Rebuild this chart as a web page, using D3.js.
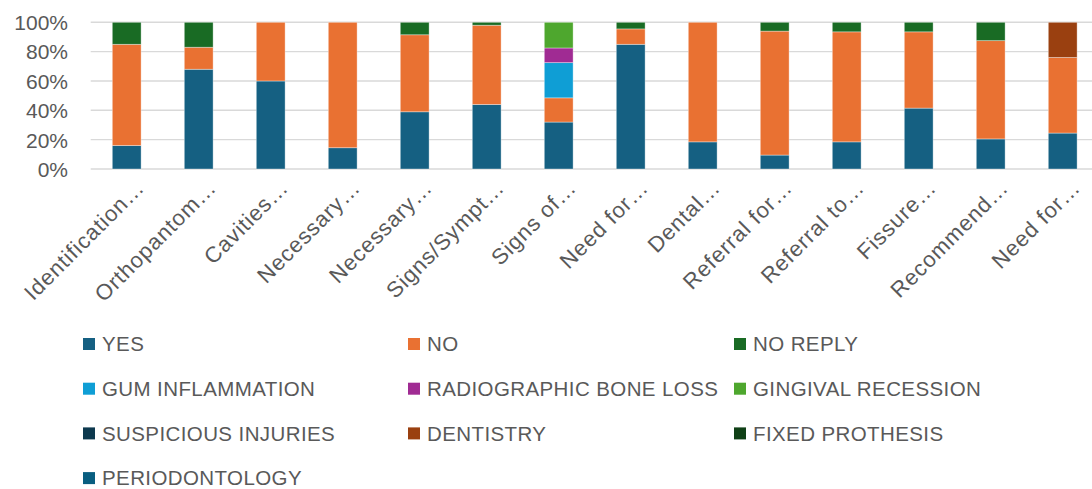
<!DOCTYPE html>
<html><head><meta charset="utf-8">
<script src="https://cdn.jsdelivr.net/npm/d3@7/dist/d3.min.js"></script>
<style>html,body{margin:0;padding:0;background:#fff;}svg{display:block;}</style>
</head><body><svg id="c" width="1092" height="489"></svg>
<script>
const categories = ["Identification…","Orthopantom…","Cavities…","Necessary…","Necessary…","Signs/Sympt…","Signs of…","Need for…","Dental…","Referral for…","Referral to…","Fissure…","Recommend…","Need for…"];
const seriesNames = ["YES","NO","NO REPLY","GUM INFLAMMATION","RADIOGRAPHIC BONE LOSS","GINGIVAL RECESSION","SUSPICIOUS INJURIES","DENTISTRY","FIXED PROTHESIS","PERIODONTOLOGY"];
const seriesColors = ["#156082","#E97132","#196B24","#0F9ED5","#A02B93","#4EA72E","#0D394E","#9A4010","#0F4016","#095E80"];
const yes       = [16, 68, 60, 14.5, 39, 44, 32, 85, 18.5, 9.5, 18.5, 41.5, 20.5, 24.5];
const no        = [69, 15, 40, 85.5, 52.5, 54, 16.5, 10.5, 81.5, 84.5, 75, 52, 67, 51.5];
const noReply   = [15, 17, 0, 0, 8.5, 2, 0, 4.5, 0, 6, 6.5, 6.5, 12.5, 0];
const gumInflam = [0, 0, 0, 0, 0, 0, 24, 0, 0, 0, 0, 0, 0, 0];
const radBone   = [0, 0, 0, 0, 0, 0, 10, 0, 0, 0, 0, 0, 0, 0];
const gingRec   = [0, 0, 0, 0, 0, 0, 17.5, 0, 0, 0, 0, 0, 0, 0];
const suspInj   = [0, 0, 0, 0, 0, 0, 0, 0, 0, 0, 0, 0, 0, 0];
const dentistry = [0, 0, 0, 0, 0, 0, 0, 0, 0, 0, 0, 0, 0, 24];
const fixedPro  = [0, 0, 0, 0, 0, 0, 0, 0, 0, 0, 0, 0, 0, 0];
const perio     = [0, 0, 0, 0, 0, 0, 0, 0, 0, 0, 0, 0, 0, 0];
const yTicks = [0, 0.2, 0.4, 0.6, 0.8, 1.0];
const yTickLabels = ["0%","20%","40%","60%","80%","100%"];

const seriesValues = [yes,no,noReply,gumInflam,radBone,gingRec,suspInj,dentistry,fixedPro,perio];
const rows = categories.map((c,i)=>{const r={idx:i}; seriesNames.forEach((s,j)=>r[s]=seriesValues[j][i]); return r;});

const svg = d3.select("#c");
const font = "'Liberation Sans', Arial, sans-serif";
const gray = "#595959";
const pLeft = 90.7, pRight = 1098.7, pTop = 22.3, pBottom = 169;

const x = d3.scaleBand().domain(categories.map((c,i)=>i)).range([pLeft,pRight]).paddingInner(0.6).paddingOuter(0.3);
const y = d3.scaleLinear().domain([0,1]).range([pBottom, pTop]);
const color = d3.scaleOrdinal().domain(seriesNames).range(seriesColors);

// gridlines
svg.append("g").selectAll("line").data(yTicks).join("line")
  .attr("x1", pLeft).attr("x2", 1092).attr("y1", d=>y(d)).attr("y2", d=>y(d))
  .attr("stroke", "#d9d9d9").attr("stroke-width", 1.4);

// y axis labels
const yAxis = d3.axisLeft(y).tickValues(yTicks).tickFormat((d,i)=>yTickLabels[i]).tickSize(0).tickPadding(0);
const gy = svg.append("g").attr("transform", `translate(68,0)`).call(yAxis);
gy.select(".domain").remove();
gy.selectAll("text").attr("font-family", font).attr("font-size", 21).attr("fill", gray).attr("dy","0.35em");

// bars
const stack = d3.stack().keys(seriesNames).offset(d3.stackOffsetExpand);
const layers = stack(rows);
svg.append("g").selectAll("g").data(layers).join("g")
  .attr("fill", d=>color(d.key))
  .selectAll("rect").data(d=>d.filter(p=>p[1]-p[0]>0)).join("rect")
  .attr("x", d=>x(d.data.idx)).attr("width", x.bandwidth())
  .attr("y", d=>y(d[1])).attr("height", d=>y(d[0])-y(d[1]))
  .attr("stroke", "#ffffff").attr("stroke-opacity", 0.45).attr("stroke-width", 0.8);

// x labels
const xAxis = d3.axisBottom(x).tickFormat(i=>categories[i]).tickSize(0).tickPadding(0);
const gx = svg.append("g").attr("transform", `translate(0,${pBottom})`).call(xAxis);
gx.select(".domain").remove();
gx.selectAll(".tick text")
  .attr("font-family", font).attr("font-size", 22).attr("letter-spacing", "0.9px").attr("fill", gray)
  .attr("text-anchor", "end").attr("dy", 0).attr("y", 0)
  .attr("transform", "translate(19,20) rotate(-45)");

// legend
const cols = [83, 408, 734];
const lg = svg.append("g");
seriesNames.forEach((s,i)=>{
  const cx = cols[i%3], cy = 344 + Math.floor(i/3)*44.7;
  lg.append("rect").attr("x", cx).attr("y", cy-6).attr("width", 12).attr("height", 12).attr("fill", color(s));
  lg.append("text").attr("x", cx+19).attr("y", cy).attr("dy","0.35em")
    .attr("font-family", font).attr("font-size", 20.5).attr("letter-spacing", "0.4px").attr("fill", gray).text(s);
});
</script></body></html>
